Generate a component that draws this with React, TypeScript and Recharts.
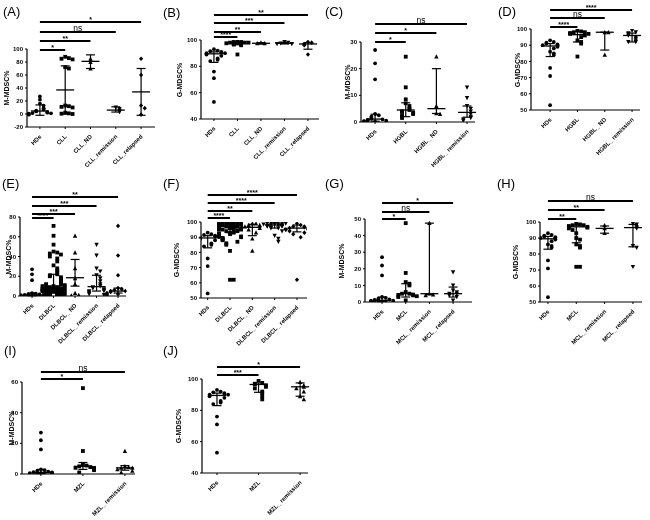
import React from "react";
import { ScatterChart, Scatter, XAxis, YAxis, ReferenceLine } from "recharts";

// ---- healthy donors (shared across panels) ----
const HDS_M = [27, 22, 16, 3, 2.5, 2, 1.5, 1.2, 1, 0.8, 0.6, 0.5, 0.3, 0.2, 0.1];
const HDS_G = [93, 92, 91.5, 91, 90.5, 90, 90, 89, 88, 86, 85, 84, 76, 71, 53];

// ---- (A) / (B) CLL ----
const A_HDS = [27, 22, 16, 13, 9, 7, 5, 4, 3, 2, 1.5, 1, 0.5, 0, -1];
const CLL_M = [88, 86, 85, 84, 72, 70, 13, 12, 11, 10, 2, 1, 0.5, 0];
const CLL_ND_M = [85, 80, 70];
const CLL_REM_M = [10, 8, 5, 3];
const CLL_REL_M = [85, 60, 13, 9, -1];
const CLL_G = [99, 98.5, 98.5, 98, 98, 98, 97.5, 97.5, 97, 97, 96.5, 96, 89];
const CLL_ND_G = [98, 97.5, 97.5];
const CLL_REM_G = [98.5, 98, 97.5, 97, 97];
const CLL_REL_G = [98.5, 98, 97, 96, 89];

// ---- (C) / (D) HGBL ----
const HGBL_M = [24.5, 13, 8.5, 7, 6, 5, 4.5, 4, 3.8, 3.5, 3, 2.5, 2, 1.5];
const HGBL_ND_M = [24.5, 6, 3.2, 3];
const HGBL_REM_M = [13, 9, 6, 5, 4, 3, 2, 1.5, 1, 0.5];
const HGBL_G = [99, 98.5, 98, 98, 97.5, 97, 97, 96, 95, 93, 92, 91, 83];
const HGBL_ND_G = [98, 98, 84];
const HGBL_REM_G = [99, 98, 97.5, 97, 96, 95, 94, 93, 92, 92];

// ---- (E) / (F) DLBCL ----
const DLBCL_M = [71, 61, 52, 45, 44, 43, 42, 40, 38, 35, 31, 28, 26, 24, 22, 21, 20, 19, 18, 17, 16, 15, 14, 13, 12, 12, 11, 11, 10, 10, 10, 9, 9, 9, 8, 8, 8, 8, 7, 7, 7, 7, 6, 6, 6, 6, 6, 5, 5, 5, 5, 5, 4.5, 4, 4, 4, 4, 3.5, 3, 3, 3, 3, 2.5, 2, 2, 2, 2, 1.5, 1.5, 1, 1, 1, 0.5, 0.5];
const DLBCL_ND_M = [61, 44, 28, 18, 12, 3, 1, 0.5];
const DLBCL_REM_M = [52, 41, 28, 25, 21, 18, 15, 12, 10, 9, 8, 7, 6, 5, 5, 4, 3, 2, 1];
const DLBCL_REL_M = [71, 41, 21, 8, 7, 6, 5, 5, 4, 4, 3.5, 3, 2, 2, 1];
const DLBCL_G = [100, 100, 99.5, 99.5, 99, 99, 99, 99, 98.5, 98.5, 98.5, 98, 98, 98, 98, 97.5, 97.5, 97.5, 97, 97, 97, 97, 96.5, 96.5, 96, 96, 96, 95.5, 95.5, 95, 95, 95, 94.5, 94, 94, 93.5, 93, 93, 92.5, 92, 92, 91.5, 91, 90.5, 90, 89.5, 89, 88.5, 88, 87, 86, 85, 81, 62, 62];
const DLBCL_ND_G = [99, 99, 98, 98, 97, 96, 95, 93, 89, 81];
const DLBCL_REM_G = [100, 99.5, 99.5, 99, 99, 99, 98.5, 98.5, 98, 98, 98, 97.5, 97.5, 97, 97, 96.5, 96, 96, 95, 94, 91, 89, 87];
const DLBCL_REL_G = [99, 98, 97, 97, 96.5, 96, 96, 95, 95, 94, 93, 92, 90, 62];

// ---- (G) / (H) MCL ----
const MCL_M = [47.5, 17.5, 12, 11, 10, 6, 5, 5, 4.5, 4, 4, 3.5, 3, 1];
const MCL_REM_M = [47.5, 5, 4.5, 4];
const MCL_REL_M = [18, 10, 7, 6, 5, 5, 4, 3, 1];
const MCL_G = [99, 98.5, 98, 98, 97.5, 97, 97, 96.5, 96, 95, 93, 90, 89, 86, 85, 84, 72, 72];
const MCL_REM_G = [98, 96, 93];
const MCL_REL_G = [99, 98.5, 97, 96, 85, 84, 72];

// ---- (I) / (J) MZL ----
const MZL_M = [56, 15, 6, 5.5, 5, 4.5, 4, 4, 3.5, 3, 2.5, 1];
const MZL_REM_M = [15, 5, 4.5, 4, 4, 3, 2, 1];
const MZL_G = [99, 97.5, 97, 96.5, 96, 95, 94, 92, 91, 89, 87];
const MZL_REM_G = [98, 96, 95, 94, 92, 89, 87];

// categories
const CLL_CATS = ["HDs", "CLL", "CLL_ND", "CLL_remission", "CLL_relapsed"];
const HGBL_CATS = ["HDs", "HGBL", "HGBL_ ND", "HGBL_ remission"];
const DLBCL_CATS = ["HDs", "DLBCL", "DLBCL_ ND", "DLBCL_ remission", "DLBCL_ relapsed"];
const MCL_CATS = ["HDs", "MCL", "MCL_ remission", "MCL_ relapsed"];
const MZL_CATS = ["HDs", "MZL", "MZL_ remission"];

// median with interquartile range per group
const A_MED = [4.6, 37, 81, 6, 34], A_LO = [-2, 0, 70, 3, -2], A_HI = [14, 74, 91, 11, 70];
const B_MED = [89.5, 97.5, 97.5, 97.5, 97], B_LO = [83, 96.5, 97, 97, 93], B_HI = [91, 98.5, 98, 98, 98];
const C_MED = [1.1, 4.5, 5, 3.6], C_LO = [0.3, 2, 3.2, 1.8], C_HI = [2.9, 7.2, 20, 6];
const D_MED = [89.5, 96.5, 98, 96], D_LO = [83, 92, 87, 92], D_HI = [91, 98.5, 98, 97.5];
const E_MED = [1, 7.5, 18.5, 9.5, 5], E_LO = [0.3, 3, 10, 5, 3], E_HI = [3, 22, 37, 21, 8];
const F_MED = [89.5, 97, 96.5, 98, 96], F_LO = [83, 93, 91, 96, 93.5], F_HI = [91, 99, 98.5, 99.5, 98];
const G_MED = [1, 5, 5, 5], G_LO = [0.3, 3, 4.5, 3], G_HI = [3, 11, 47.5, 9];
const H_MED = [89.5, 97, 96, 96.5], H_LO = [83, 87, 93, 84.5], H_HI = [91, 98, 97.5, 98.5];
const I_MED = [1, 5, 4], I_LO = [0.3, 3, 2.5], I_HI = [3, 7.5, 5.5];
const J_MED = [89.5, 96.5, 95], J_LO = [83, 91.5, 89], J_HI = [91, 97.5, 97.5];

type Bar = [number, number, number, string]; // from group, to group, pixel row, label

type Cfg = {
  tag: string; tagX: number; tagY: number;
  left: number; right: number; top: number; bottom: number;
  x0: number; x1: number;
  yMin: number; yMax: number; yTicks: number[];
  yLabel: string; yLabelX: number;
  cats: string[]; groups: number[][]; med: number[]; lo: number[]; hi: number[];
  bars: Bar[];
};

const PANELS: Cfg[] = [
  {
    tag: "(A)", tagX: 3, tagY: 5, left: 27, right: 155, top: 49, bottom: 127, x0: -0.51, x1: 4.55,
    yMin: -20, yMax: 100, yTicks: [-20, 0, 20, 40, 60, 80, 100], yLabel: "M-MDSC%", yLabelX: 6,
    cats: CLL_CATS, groups: [A_HDS, CLL_M, CLL_ND_M, CLL_REM_M, CLL_REL_M], med: A_MED, lo: A_LO, hi: A_HI,
    bars: [[0, 1, 50, "*"], [0, 2, 41, "**"], [0, 3, 32, "ns"], [0, 4, 22, "*"]],
  },
  {
    tag: "(B)", tagX: 163, tagY: 6, left: 201, right: 319, top: 40, bottom: 119, x0: -0.55, x1: 4.47,
    yMin: 40, yMax: 100, yTicks: [40, 60, 80, 100], yLabel: "G-MDSC%", yLabelX: 179,
    cats: CLL_CATS, groups: [HDS_G, CLL_G, CLL_ND_G, CLL_REM_G, CLL_REL_G], med: B_MED, lo: B_LO, hi: B_HI,
    bars: [[0, 1, 37, "****"], [0, 2, 32, "**"], [0, 3, 23, "***"], [0, 4, 15, "**"]],
  },
  {
    tag: "(C)", tagX: 325, tagY: 5, left: 361, right: 475, top: 42, bottom: 122, x0: -0.46, x1: 3.26,
    yMin: 0, yMax: 30, yTicks: [0, 10, 20, 30], yLabel: "M-MDSC%", yLabelX: 347,
    cats: HGBL_CATS, groups: [HDS_M, HGBL_M, HGBL_ND_M, HGBL_REM_M], med: C_MED, lo: C_LO, hi: C_HI,
    bars: [[0, 1, 42, "*"], [0, 2, 33, "*"], [0, 3, 24, "ns"]],
  },
  {
    tag: "(D)", tagX: 498, tagY: 5, left: 531, right: 640, top: 29, bottom: 110, x0: -0.7, x1: 3.29,
    yMin: 50, yMax: 100, yTicks: [50, 60, 70, 80, 90, 100], yLabel: "G-MDSC%", yLabelX: 517,
    cats: HGBL_CATS, groups: [HDS_G, HGBL_G, HGBL_ND_G, HGBL_REM_G], med: D_MED, lo: D_LO, hi: D_HI,
    bars: [[0, 1, 27, "****"], [0, 2, 18, "ns"], [0, 3, 10, "****"]],
  },
  {
    tag: "(E)", tagX: 2, tagY: 177, left: 20, right: 126, top: 217, bottom: 296, x0: -0.56, x1: 4.37,
    yMin: 0, yMax: 80, yTicks: [0, 20, 40, 60, 80], yLabel: "M-MDSC%", yLabelX: 8,
    cats: DLBCL_CATS, groups: [HDS_M, DLBCL_M, DLBCL_ND_M, DLBCL_REM_M, DLBCL_REL_M], med: E_MED, lo: E_LO, hi: E_HI,
    bars: [[0, 1, 218, "****"], [0, 2, 214, "***"], [0, 3, 206, "***"], [0, 4, 197, "**"]],
  },
  {
    tag: "(F)", tagX: 163, tagY: 177, left: 201, right: 307, top: 222, bottom: 298, x0: -0.3, x1: 4.45,
    yMin: 50, yMax: 100, yTicks: [50, 60, 70, 80, 90, 100], yLabel: "G-MDSC%", yLabelX: 176,
    cats: DLBCL_CATS, groups: [HDS_G, DLBCL_G, DLBCL_ND_G, DLBCL_REM_G, DLBCL_REL_G], med: F_MED, lo: F_LO, hi: F_HI,
    bars: [[0, 1, 218, "****"], [0, 2, 211, "**"], [0, 3, 203, "****"], [0, 4, 195, "****"]],
  },
  {
    tag: "(G)", tagX: 325, tagY: 177, left: 365, right: 472, top: 219, bottom: 302, x0: -0.72, x1: 3.8,
    yMin: 0, yMax: 50, yTicks: [0, 10, 20, 30, 40, 50], yLabel: "M-MDSC%", yLabelX: 341,
    cats: MCL_CATS, groups: [HDS_M, MCL_M, MCL_REM_M, MCL_REL_M], med: G_MED, lo: G_LO, hi: G_HI,
    bars: [[0, 1, 219, "*"], [0, 2, 212, "ns"], [0, 3, 203, "*"]],
  },
  {
    tag: "(H)", tagX: 497, tagY: 177, left: 540, right: 642, top: 222, bottom: 302, x0: -0.28, x1: 3.32,
    yMin: 50, yMax: 100, yTicks: [50, 60, 70, 80, 90, 100], yLabel: "G-MDSC%", yLabelX: 515,
    cats: MCL_CATS, groups: [HDS_G, MCL_G, MCL_REM_G, MCL_REL_G], med: H_MED, lo: H_LO, hi: H_HI,
    bars: [[0, 1, 219, "**"], [0, 2, 210, "**"], [0, 3, 201, "ns"]],
  },
  {
    tag: "(I)", tagX: 4, tagY: 344, left: 22, right: 135, top: 382, bottom: 474, x0: -0.45, x1: 2.24,
    yMin: 0, yMax: 60, yTicks: [0, 20, 40, 60], yLabel: "M-MDSC%", yLabelX: 11,
    cats: MZL_CATS, groups: [HDS_M, MZL_M, MZL_REM_M], med: I_MED, lo: I_LO, hi: I_HI,
    bars: [[0, 1, 379, "*"], [0, 2, 372, "ns"]],
  },
  {
    tag: "(J)", tagX: 163, tagY: 344, left: 202, right: 308, top: 379, bottom: 473, x0: -0.36, x1: 2.19,
    yMin: 40, yMax: 100, yTicks: [40, 60, 80, 100], yLabel: "G-MDSC%", yLabelX: 178,
    cats: MZL_CATS, groups: [HDS_G, MZL_G, MZL_REM_G], med: J_MED, lo: J_LO, hi: J_HI,
    bars: [[0, 1, 375, "***"], [0, 2, 367, "*"]],
  },
];

const MT = 42, ML = 2, YW = 22, MR = 6, XH = 52, MB = 2;
const axisStyle = { stroke: "#000", strokeWidth: 1.2 };

function Marker({ cx, cy, kind }: any) {
  if (cx == null || cy == null) return null;
  const s = 1.9;
  if (kind === 0) return <circle cx={cx} cy={cy} r={s} fill="#000" />;
  if (kind === 1) return <rect x={cx - s} y={cy - s} width={s * 2} height={s * 2} fill="#000" />;
  if (kind === 2)
    return <polygon points={`${cx},${cy - s - 0.4} ${cx + s + 0.3},${cy + s} ${cx - s - 0.3},${cy + s}`} fill="#000" />;
  if (kind === 3)
    return <polygon points={`${cx},${cy + s + 0.4} ${cx + s + 0.3},${cy - s} ${cx - s - 0.3},${cy - s}`} fill="#000" />;
  return <polygon points={`${cx},${cy - s - 0.4} ${cx + s + 0.2},${cy} ${cx},${cy + s + 0.4} ${cx - s - 0.2},${cy}`} fill="#000" />;
}

// place points of one group side by side where they would overlap
function spread(vals: number[], gi: number, yPerPx: number, stepX: number) {
  const placed: number[] = [];
  return vals.map((v) => {
    const near = placed.filter((p) => Math.abs(p - v) / yPerPx < 3.2).length;
    placed.push(v);
    const k = near % 7;
    const side = k === 0 ? 0 : (k % 2 ? 1 : -1) * Math.ceil(k / 2);
    return { x: gi + side * stepX, y: v };
  });
}

function CatTick({ x, y, payload, cats }: any) {
  const tx = x + 2;
  const ty = y + 6;
  return (
    <text x={tx} y={ty} transform={`rotate(-45 ${tx} ${ty})`} textAnchor="end" fontSize={6} fontWeight={700} fill="#000">
      {cats[payload.value]}
    </text>
  );
}

function Panel({ c }: { c: Cfg }) {
  const plotW = c.right - c.left;
  const plotH = c.bottom - c.top;
  const W = ML + YW + plotW + MR;
  const H = MT + plotH + XH + MB;
  const unitPx = plotW / (c.x1 - c.x0);
  const yPerPx = (c.yMax - c.yMin) / plotH;
  const rowToY = (row: number) => c.yMax + (c.top - row) * yPerPx;
  const medHalf = 9 / unitPx;
  const capHalf = 4.5 / unitPx;

  return (
    <>
      <div style={{ position: "absolute", left: c.tagX, top: c.tagY, fontSize: 13, lineHeight: 1 }}>{c.tag}</div>
      <div
        style={{
          position: "absolute",
          left: c.yLabelX,
          top: (c.top + c.bottom) / 2,
          transform: "translate(-50%, -50%) rotate(-90deg)",
          fontSize: 7,
          fontWeight: 700,
          whiteSpace: "nowrap",
          lineHeight: 1,
        }}
      >
        {c.yLabel}
      </div>
      <div style={{ position: "absolute", left: c.left - ML - YW, top: c.top - MT, willChange: "transform" }}>
        <ScatterChart width={W} height={H} margin={{ top: MT, right: MR, bottom: MB, left: ML }}>
          <XAxis
            type="number"
            dataKey="x"
            domain={[c.x0, c.x1]}
            ticks={c.cats.map((_, i) => i)}
            interval={0}
            allowDataOverflow
            height={XH}
            tickSize={2}
            axisLine={axisStyle}
            tickLine={{ stroke: "#000", strokeWidth: 1 }}
            tick={(p: any) => <CatTick {...p} cats={c.cats} />}
          />
          <YAxis
            type="number"
            dataKey="y"
            domain={[c.yMin, c.yMax]}
            ticks={c.yTicks}
            interval={0}
            allowDataOverflow
            width={YW}
            tickSize={2}
            axisLine={axisStyle}
            tickLine={{ stroke: "#000", strokeWidth: 1 }}
            tick={{ fontSize: 6, fontWeight: 700, fill: "#000" }}
          />
          {c.groups.map((vals, gi) => (
            <Scatter
              key={"g" + gi}
              data={spread(vals, gi, yPerPx, 3.7 / unitPx)}
              isAnimationActive={false}
              shape={(p: any) => <Marker cx={p.cx} cy={p.cy} kind={gi} />}
            />
          ))}
          {c.med.map((m, gi) => (
            <ReferenceLine
              key={"m" + gi}
              segment={[{ x: gi - medHalf, y: m }, { x: gi + medHalf, y: m }]}
              stroke="#000"
              strokeWidth={1.3}
              ifOverflow="visible"
            />
          ))}
          {c.med.map((_, gi) => (
            <ReferenceLine
              key={"v" + gi}
              segment={[{ x: gi, y: c.lo[gi] }, { x: gi, y: c.hi[gi] }]}
              stroke="#000"
              strokeWidth={1.2}
              ifOverflow="visible"
            />
          ))}
          {c.med.map((_, gi) => (
            <ReferenceLine
              key={"lc" + gi}
              segment={[{ x: gi - capHalf, y: c.lo[gi] }, { x: gi + capHalf, y: c.lo[gi] }]}
              stroke="#000"
              strokeWidth={1.2}
              ifOverflow="visible"
            />
          ))}
          {c.med.map((_, gi) => (
            <ReferenceLine
              key={"hc" + gi}
              segment={[{ x: gi - capHalf, y: c.hi[gi] }, { x: gi + capHalf, y: c.hi[gi] }]}
              stroke="#000"
              strokeWidth={1.2}
              ifOverflow="visible"
            />
          ))}
          {c.bars.map((b, bi) => (
            <ReferenceLine
              key={"s" + bi}
              segment={[{ x: b[0], y: rowToY(b[2]) }, { x: b[1], y: rowToY(b[2]) }]}
              stroke="#000"
              strokeWidth={2}
              ifOverflow="visible"
              label={{
                value: b[3],
                position: "top",
                offset: b[3] === "ns" ? 1 : 0,
                fontSize: b[3] === "ns" ? 8.5 : 7,
                fontWeight: b[3] === "ns" ? 400 : 700,
                fill: "#000",
              }}
            />
          ))}
        </ScatterChart>
      </div>
    </>
  );
}

export default function App() {
  return (
    <div
      style={{
        position: "absolute",
        left: 0,
        top: 0,
        width: 650,
        height: 520,
        fontFamily: "'Liberation Sans', Arial, sans-serif",
        color: "#000",
        overflow: "hidden",
        willChange: "transform",
      }}
    >
      {PANELS.map((c) => (
        <Panel key={c.tag} c={c} />
      ))}
    </div>
  );
}
